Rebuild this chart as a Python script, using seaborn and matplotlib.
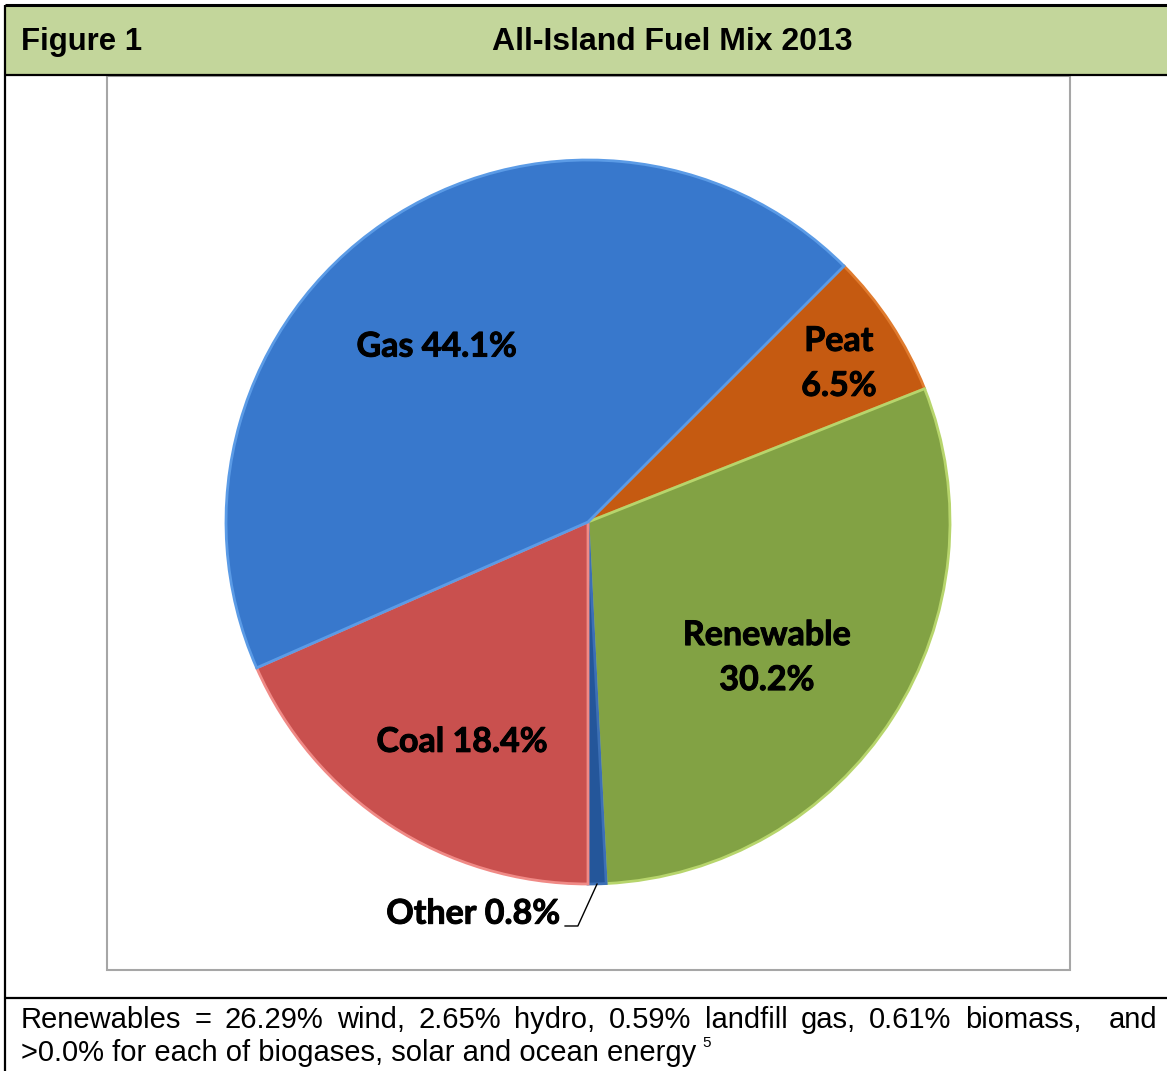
import matplotlib
matplotlib.use("Agg")
import matplotlib.pyplot as plt
import matplotlib.patheffects as pe
import seaborn as sns
import numpy as np
from matplotlib.patches import Rectangle

# ---------------- data ----------------
categories = ["Peat", "Renewable", "Other", "Coal", "Gas"]
shares = [6.5, 30.2, 0.8, 18.4, 44.1]
label_texts = ["Peat\n6.5%", "Renewable\n30.2%", "Other 0.8%", "Coal 18.4%", "Gas 44.1%"]
title = "All-Island Fuel Mix 2013"
figure_label = "Figure 1"
footnote_line1 = "Renewables = 26.29% wind, 2.65% hydro, 0.59% landfill gas, 0.61% biomass,  and"
footnote_line2 = ">0.0% for each of biogases, solar and ocean energy"
footnote_ref = "5"

# ---------------- style ----------------
face_colors = ["#C55A11", "#82A244", "#24569A", "#C9504E", "#3878CC"]
edge_colors = ["#E07B2E", "#B7D56C", "#3C6FB5", "#F08A86", "#5B9BE6"]
# (radius factor, angle offset in degrees) for in-slice labels
label_pos = {"Peat": (0.82, -1.0), "Renewable": (0.62, -4.4),
             "Coal": (0.70, 3.3), "Gas": (0.64, 6.4)}

sns.set_theme(style="white")
plt.rcParams['font.family'] = ['Liberation Sans', 'DejaVu Sans']

W, H = 1167, 1071
fig = plt.figure(figsize=(W / 100, H / 100), dpi=100)
fig.patch.set_facecolor("white")

# background / frame axes in pixel coordinates
bg = fig.add_axes([0, 0, 1, 1])
bg.set_xlim(0, W)
bg.set_ylim(H, 0)
bg.axis("off")
bg.add_patch(Rectangle((5, 5), W, 70, facecolor="#C3D69B", edgecolor="none", zorder=1))
bg.plot([5, W], [5, 5], color="black", lw=2.2, zorder=3, solid_capstyle="butt")
bg.plot([5, W], [75, 75], color="black", lw=1.6, zorder=3, solid_capstyle="butt")
bg.plot([5, W], [998, 998], color="black", lw=1.6, zorder=3, solid_capstyle="butt")
bg.plot([5, 5], [5, H], color="black", lw=1.6, zorder=3, solid_capstyle="butt")
bg.add_patch(Rectangle((107, 76), 963, 894, facecolor="white",
                       edgecolor="#A6A6A6", lw=1.5, zorder=2))

bg.text(21, 42, figure_label, fontsize=22.4, fontweight="bold", va="center", ha="left",
        color="black")
bg.text(672, 42, title, fontsize=23, fontweight="bold", va="center", ha="center",
        color="black")

# footnote (justified first line)
fs_note = 21
renderer = fig.canvas.get_renderer()
tokens = footnote_line1.split(" ")
objs = []
widths = []
for tok in tokens:
    t = bg.text(0, 1020, tok, fontsize=fs_note, va="center", ha="left", color="black")
    objs.append(t)
    widths.append(t.get_window_extent(renderer).width if tok else 0.0)
x0, x1 = 21, 1157
gap = (x1 - x0 - sum(widths)) / (len(tokens) - 1)
x = x0
for t, w in zip(objs, widths):
    t.set_x(x)
    x += w + gap

t2 = bg.text(21, 1053, footnote_line2, fontsize=fs_note, va="center", ha="left", color="black")
w2 = t2.get_window_extent(renderer).width
bg.text(21 + w2 + 6, 1043, footnote_ref, fontsize=11, va="center", ha="left", color="black")

# ---------------- pie ----------------
R = 362
cx, cy = 588, 522
ax = fig.add_axes([(cx - R) / W, 1 - (cy + R) / H, 2 * R / W, 2 * R / H])
wedges, _ = ax.pie(shares, colors=face_colors, startangle=45, counterclock=False,
                   radius=1, wedgeprops=dict(linewidth=2.0))
for w, ec in zip(wedges, edge_colors):
    w.set_edgecolor(ec)
    w.set_clip_on(False)
ax.set_xlim(-1, 1)
ax.set_ylim(-1, 1)
ax.set_aspect("equal")
ax.axis("off")

label_font = ['Lato', 'DejaVu Sans']
bold_fx = [pe.withStroke(linewidth=0.7, foreground="black")]
for cat, w, lab in zip(categories, wedges, label_texts):
    mid = np.deg2rad((w.theta1 + w.theta2) / 2)
    if cat in label_pos:
        r, dth = label_pos[cat]
        ang = mid + np.deg2rad(dth)
        ax.text(r * np.cos(ang), r * np.sin(ang), lab, ha="center", va="center",
                fontsize=24.5, fontweight="bold", family=label_font, color="black",
                linespacing=1.5, path_effects=bold_fx)
    else:
        ex, ey = np.cos(mid), np.sin(mid)
        ax.plot([-0.064, -0.028, ex], [-1.116, -1.116, ey], color="black", lw=1.0,
                clip_on=False)
        ax.text(-0.077, -1.082, lab, ha="right", va="center", fontsize=24.5,
                fontweight="bold", family=label_font, color="black", clip_on=False,
                path_effects=bold_fx)

fig.savefig("out.png", dpi=100)
